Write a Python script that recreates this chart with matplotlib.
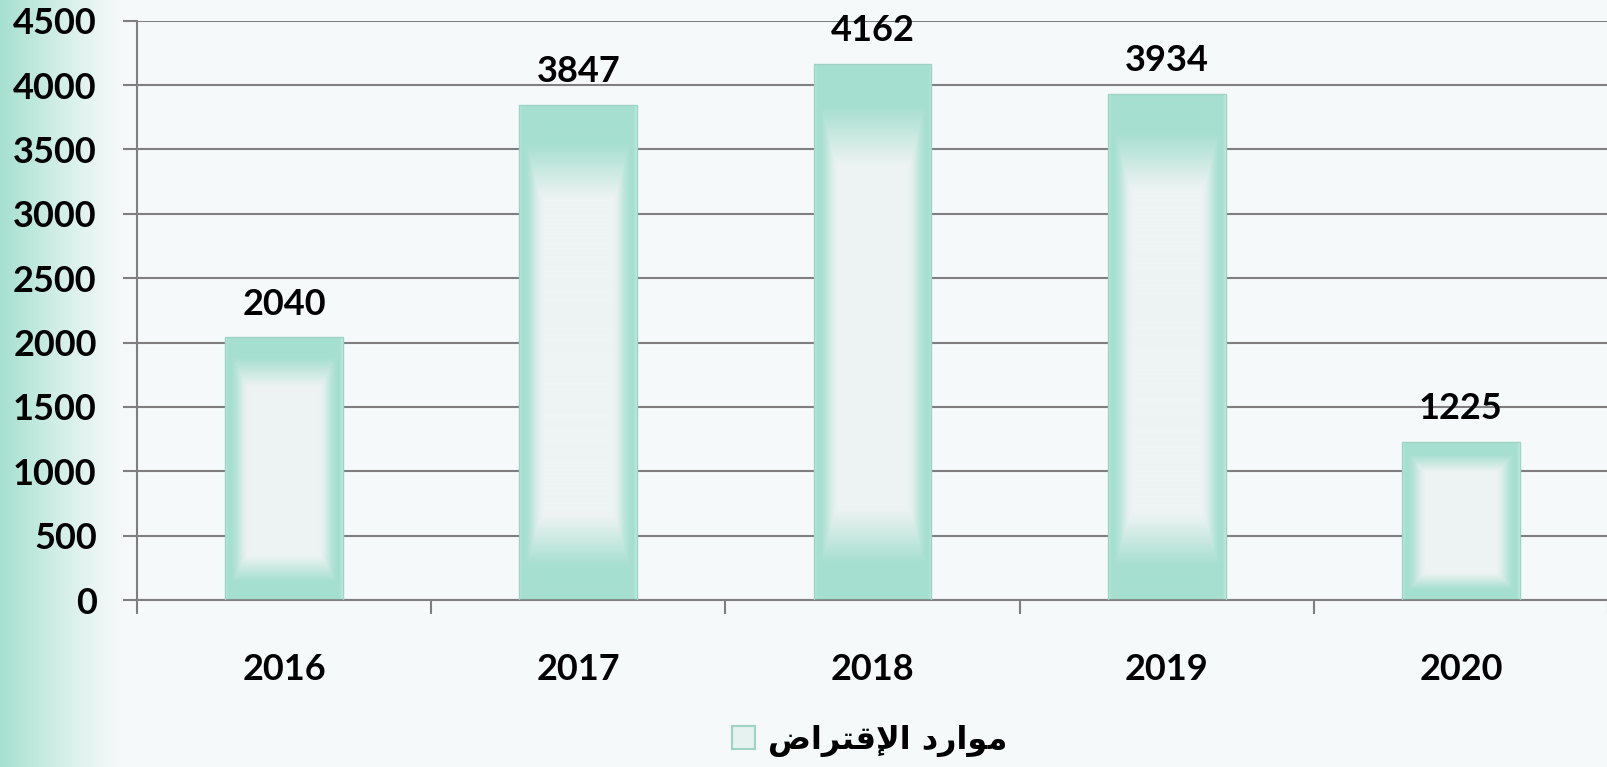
import numpy as np
import matplotlib
matplotlib.use("Agg")
import matplotlib.pyplot as plt
from matplotlib.patches import Patch
from matplotlib.colors import to_rgb

years = ["2016", "2017", "2018", "2019", "2020"]
values = [2040, 3847, 4162, 3934, 1225]
y_ticks = [0, 500, 1000, 1500, 2000, 2500, 3000, 3500, 4000, 4500]
# موارد الإقتراض  (written with presentation forms, in visual order)
legend_label = "\uFEBD\uFE8D\uFEAE\uFE98\uFED7\uFEF9\uFE8D \uFEA9\uFEAD\uFE8D\uFEEE\uFEE3"

W, H = 1608, 767
num_font = "Lato"
teal = np.array(to_rgb("#a6dfd0"))
light = np.array(to_rgb("#eef3f3"))
bg_col = np.array(to_rgb("#f5f9f9"))

fig = plt.figure(figsize=(W / 100, H / 100), dpi=100)

# background with teal fade on the left edge
bg = fig.add_axes([0, 0, 1, 1], zorder=-10)
px = np.arange(W) + 0.5
t_bg = np.clip(1 - px / 120, 0, 1) ** 1.2
row = bg_col[None, :] + t_bg[:, None] * (np.array(to_rgb("#a6e0d0")) - bg_col[None, :])
bg_img = np.repeat(row[None, :, :], H, axis=0)
bg.imshow(bg_img, aspect="auto", extent=[0, 1, 0, 1])
bg.axis("off")

ax = fig.add_axes([137 / W, 1 - 600 / H, 1 - 137 / W, (600 - 20.7) / H])
ax.patch.set_alpha(0)

x = np.arange(len(years))
bars = ax.bar(x, values, width=0.4, color="none", edgecolor="#9fd3c6", linewidth=1.0, zorder=3)

ax.set_xlim(-0.5, len(years) - 0.5)
ax.set_ylim(0, 4500)

# bevelled fill for each bar
fig.canvas.draw()
for rect, v in zip(bars, values):
    x0, x1 = rect.get_x(), rect.get_x() + rect.get_width()
    p0 = ax.transData.transform((x0, 0))
    p1 = ax.transData.transform((x1, v))
    w = max(int(round(p1[0] - p0[0])), 2)
    h = max(int(round(p1[1] - p0[1])), 2)
    yy = (np.arange(h)[:, None] + 0.5) / h
    xx = np.arange(w)[None, :] + 0.5
    dx = np.minimum(xx, w - xx)
    t_side = np.clip(1 - (dx - 5) / 20, 0, 1)
    t_side = t_side * t_side * (3 - 2 * t_side)
    t_top = np.clip((0.19 - yy) / 0.11, 0, 1)
    t_bot = np.clip((0.17 - (1 - yy)) / 0.10, 0, 1)
    t = np.maximum(t_side, np.maximum(t_top, t_bot))
    img = light[None, None, :] + t[:, :, None] * (teal - light)[None, None, :]
    hl = np.clip(1 - dx / 3, 0, 1)[:, :, None] * 0.6
    img = img + hl * (np.array(to_rgb("#d6f6ee")) - img)
    im = ax.imshow(img, extent=[x0, x1, 0, v], aspect="auto", zorder=2)
    im.set_clip_path(rect)
    ax.annotate(f"{v}", (rect.get_x() + rect.get_width() / 2, v), xytext=(0, 24),
                textcoords="offset points", ha="center", va="center", color="black",
                fontproperties=dict(family=num_font, weight="bold", size=26))

ax.set_xlim(-0.5, len(years) - 0.5)
ax.set_ylim(0, 4500)

grid_col = "#7f7f7f"
ax.set_yticks(y_ticks)
ax.set_yticklabels([str(t) for t in y_ticks])
ax.yaxis.grid(True, color=grid_col, linewidth=1.5)
ax.set_axisbelow(True)

ax.set_xticks(x)
ax.set_xticklabels(years)
ax.set_xticks(np.arange(len(years) + 1) - 0.5, minor=True)
ax.tick_params(axis="x", which="major", length=0, pad=38)
ax.tick_params(axis="x", which="minor", length=10, width=1.5, color=grid_col)
ax.tick_params(axis="y", length=10, width=1.5, color=grid_col, pad=19)
for lab in ax.get_xticklabels() + ax.get_yticklabels():
    lab.set_fontsize(26)
    lab.set_fontweight("bold")
    lab.set_family(num_font)

for s in ["top", "right"]:
    ax.spines[s].set_visible(False)
for s in ["left", "bottom"]:
    ax.spines[s].set_color(grid_col)
    ax.spines[s].set_linewidth(1.5)

handle = Patch(facecolor="#e6f2ef", edgecolor="#9fd3c6", linewidth=1.5)
fig.legend(handles=[handle], labels=[legend_label], loc="center",
           bbox_to_anchor=(870 / W, 1 - 741 / H), frameon=False,
           prop=dict(family="DejaVu Sans", weight="bold", size=23),
           handlelength=0.72, handleheight=0.72, handletextpad=0.4)

fig.savefig("out.png", dpi=100)
